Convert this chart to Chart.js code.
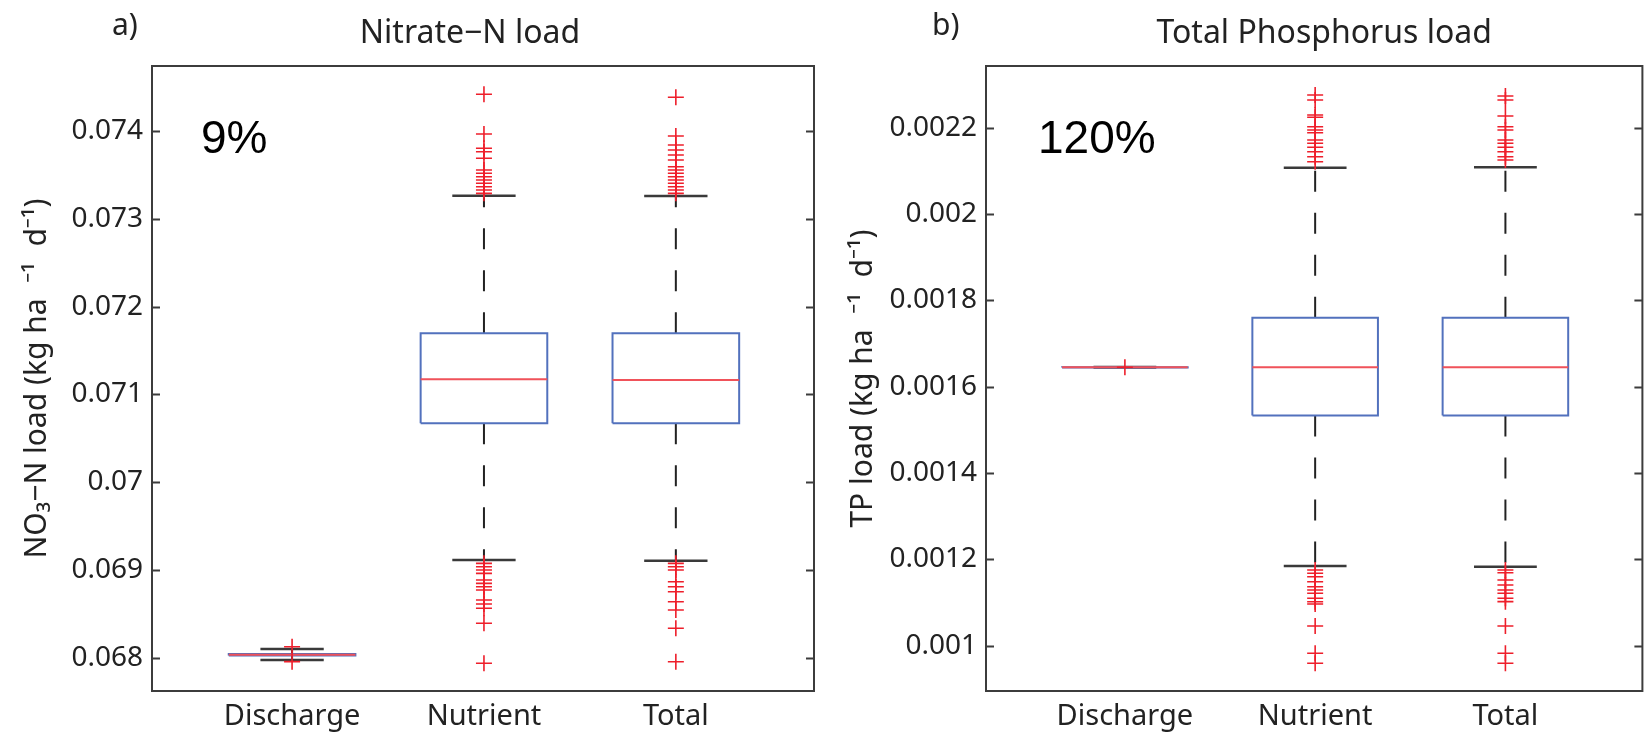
<!DOCTYPE html>
<html lang="en">
<head>
<meta charset="UTF-8">
<title>Nitrate-N and Total Phosphorus load</title>
<script src="https://cdn.jsdelivr.net/npm/chart.js"></script>
<style>
  body { margin: 0; background: #fff; }
  #wrap { position: relative; width: 1652px; height: 742px; }
  canvas { position: absolute; top: 0; }
  #chartA { left: 0; }
  #chartB { left: 830px; }
</style>
</head>
<body>
<div id="wrap">
  <canvas id="chartA" width="830" height="742"></canvas>
  <canvas id="chartB" width="822" height="742"></canvas>
</div>
<script>
const categories = ['Discharge', 'Nutrient', 'Total'];
const positions = [1, 2, 3];

// a) Nitrate-N load
const no3Q1 = [0.068025, 0.070671, 0.070671];
const no3Median = [0.068034, 0.071172, 0.071164];
const no3Q3 = [0.068043, 0.071696, 0.071696];
const no3WhiskerLow = [0.067973, 0.069114, 0.069103];
const no3WhiskerHigh = [0.068099, 0.073263, 0.073260];
const no3Outliers = [
  [0.068125, 0.067955],
  [0.074418, 0.073966, 0.073803, 0.073764, 0.073689, 0.073556, 0.073518, 0.073479, 0.073442,
   0.073404, 0.073365, 0.073328, 0.073290,
   0.069075, 0.069036, 0.068999, 0.068961, 0.068885, 0.068847, 0.068809, 0.068771, 0.068657,
   0.068611, 0.068563, 0.068392, 0.067936],
  [0.074384, 0.073943, 0.073841, 0.073784, 0.073727, 0.073670, 0.073593, 0.073556, 0.073518,
   0.073479, 0.073442, 0.073404, 0.073365, 0.073328, 0.073290,
   0.069075, 0.069036, 0.068999, 0.068866, 0.068809, 0.068752, 0.068638, 0.068543, 0.068335,
   0.067954]
];
const no3Ticks = [0.068, 0.069, 0.07, 0.071, 0.072, 0.073, 0.074];

// b) Total Phosphorus load
const tpQ1 = [0.0016447, 0.001533, 0.001533];
const tpMedian = [0.001645, 0.001645, 0.001645];
const tpQ3 = [0.0016453, 0.0017598, 0.0017598];
const tpWhiskerLow = [0.0016445, 0.0011846, 0.001183];
const tpWhiskerHigh = [0.0016455, 0.0021073, 0.0021083];
const tpOutliers = [
  [0.001645],
  [0.0022758, 0.0022642, 0.0022294, 0.0022241, 0.0022023, 0.0021947, 0.0021884, 0.0021715,
   0.0021639, 0.0021546, 0.0021444, 0.0021328, 0.0021212,
   0.0011753, 0.0011677, 0.0011598, 0.0011482, 0.0011366, 0.001129, 0.0011213, 0.0011098,
   0.0011019, 0.0010965, 0.0010456, 0.0009823, 0.0009592],
  [0.0022734, 0.0022642, 0.0022271, 0.0022023, 0.0021947, 0.0021715, 0.0021639, 0.0021546,
   0.0021444, 0.0021328, 0.0021252,
   0.0011753, 0.0011691, 0.0011522, 0.0011406, 0.001129, 0.0011214, 0.0011098, 0.001102,
   0.0010457, 0.0009824, 0.0009592]
];
const tpTicks = [0.001, 0.0012, 0.0014, 0.0016, 0.0018, 0.002, 0.0022];

const FONT = '"Noto Sans", "Open Sans", sans-serif';
const TEXT = '#222';

// frame with inward ticks + panel texts
const framePlugin = {
  id: 'frame',
  afterDatasetsDraw(chart, args, opts) {
    const {ctx, chartArea: a, scales} = chart;
    ctx.save();
    ctx.strokeStyle = '#3c3c3c';
    ctx.lineWidth = 2;
    ctx.strokeRect(a.left, a.top, a.right - a.left, a.bottom - a.top);
    scales.y.ticks.forEach(t => {
      const y = Math.round(scales.y.getPixelForValue(t.value)) + 0.5;
      ctx.beginPath();
      ctx.moveTo(a.left, y); ctx.lineTo(a.left + 8, y);
      ctx.moveTo(a.right, y); ctx.lineTo(a.right - 8, y);
      ctx.stroke();
    });
    ctx.fillStyle = TEXT;
    ctx.font = '32px ' + FONT;
    ctx.textAlign = 'center';
    ctx.fillText(opts.title, (a.left + a.right) / 2 + opts.titleShift, 43);
    ctx.textAlign = 'left';
    ctx.font = '30px ' + FONT;
    ctx.fillText(opts.letter, opts.letterX, 35);
    ctx.fillStyle = '#000';
    ctx.font = '46px "Liberation Sans", Arial, sans-serif';
    ctx.fillText(opts.note, a.left + opts.noteDx, a.top + 87);
    ctx.restore();
  }
};

function boxDatasets(q1, med, q3, wLo, wHi, outliers) {
  const hw = 0.33, cw = 0.165;
  const gap = x => ({x: x, y: null});
  const boxes = [], medians = [], whiskers = [], caps = [], outs = [];
  positions.forEach((x, i) => {
    boxes.push({x: x - hw, y: q1[i]}, {x: x + hw, y: q1[i]}, {x: x + hw, y: q3[i]},
               {x: x - hw, y: q3[i]}, {x: x - hw, y: q1[i]}, gap(x));
    medians.push({x: x - hw, y: med[i]}, {x: x + hw, y: med[i]}, gap(x));
    whiskers.push({x: x, y: q3[i]}, {x: x, y: wHi[i]}, gap(x),
                  {x: x, y: q1[i]}, {x: x, y: wLo[i]}, gap(x));
    caps.push({x: x - cw, y: wHi[i]}, {x: x + cw, y: wHi[i]}, gap(x),
              {x: x - cw, y: wLo[i]}, {x: x + cw, y: wLo[i]}, gap(x));
    outliers[i].forEach(v => outs.push({x: x, y: v}));
  });
  const seg = (data, color, width, dash) => ({
    data: data, showLine: true, borderColor: color, borderWidth: width,
    borderDash: dash || [], pointRadius: 0, spanGaps: false, fill: false
  });
  return [
    {data: outs, showLine: false, pointStyle: 'cross', pointRadius: 8,
     borderColor: '#ee1f2b', borderWidth: 1.6, backgroundColor: '#ee1f2b'},
    seg(medians, '#f0525a', 2),
    seg(boxes, '#5271bd', 2),
    seg(caps, '#3a3a3a', 2.5),
    seg(whiskers, '#222', 2, [21, 21])
  ];
}

function makeChart(id, p) {
  return new Chart(document.getElementById(id), {
    type: 'scatter',
    data: {datasets: boxDatasets(p.q1, p.med, p.q3, p.wLo, p.wHi, p.outliers)},
    plugins: [framePlugin],
    options: {
      responsive: false,
      animation: false,
      layout: {padding: {left: 0, top: 66, right: p.padRight, bottom: 0}},
      plugins: {
        legend: {display: false},
        tooltip: {enabled: false},
        frame: {title: p.title, titleShift: p.titleShift, letter: p.letter,
                letterX: p.letterX, note: p.note, noteDx: p.noteDx}
      },
      scales: {
        x: {
          type: 'linear', min: 0.27, max: 3.72,
          afterBuildTicks: s => { s.ticks = positions.map(v => ({value: v})); },
          afterFit: s => { s.height = 51; },
          grid: {display: false, drawTicks: false},
          border: {display: false},
          ticks: {
            callback: v => categories[positions.indexOf(v)],
            font: {family: FONT, size: 29}, color: TEXT,
            padding: 8, maxRotation: 0, autoSkip: false
          }
        },
        y: {
          min: p.min, max: p.max,
          afterBuildTicks: s => { s.ticks = p.ticks.map(v => ({value: v})); },
          afterFit: s => { s.width = p.axisWidth; },
          grid: {display: false, drawTicks: false},
          border: {display: false},
          ticks: {
            callback: v => String(v),
            font: {family: FONT, size: 28}, color: TEXT, padding: 9
          },
          title: {
            display: true, text: p.yTitle, color: TEXT,
            font: {family: FONT, size: 30}, padding: {top: p.titlePad, bottom: 0}
          }
        }
      }
    }
  });
}

makeChart('chartA', {
  q1: no3Q1, med: no3Median, q3: no3Q3, wLo: no3WhiskerLow, wHi: no3WhiskerHigh,
  outliers: no3Outliers, ticks: no3Ticks, min: 0.0676206, max: 0.0747405,
  axisWidth: 152, padRight: 16, titlePad: 19,
  yTitle: 'NO₃−N load (kg ha  ⁻¹  d⁻¹)',
  title: 'Nitrate−N load', titleShift: -13, letter: 'a)', letterX: 112,
  note: '9%', noteDx: 49
});

makeChart('chartB', {
  q1: tpQ1, med: tpMedian, q3: tpQ3, wLo: tpWhiskerLow, wHi: tpWhiskerHigh,
  outliers: tpOutliers, ticks: tpTicks, min: 0.000895, max: 0.002343,
  axisWidth: 156, padRight: 3, titlePad: 15,
  yTitle: 'TP load (kg ha  ⁻¹  d⁻¹)',
  title: 'Total Phosphorus load', titleShift: 10, letter: 'b)', letterX: 102,
  note: '120%', noteDx: 52
});
</script>
</body>
</html>
